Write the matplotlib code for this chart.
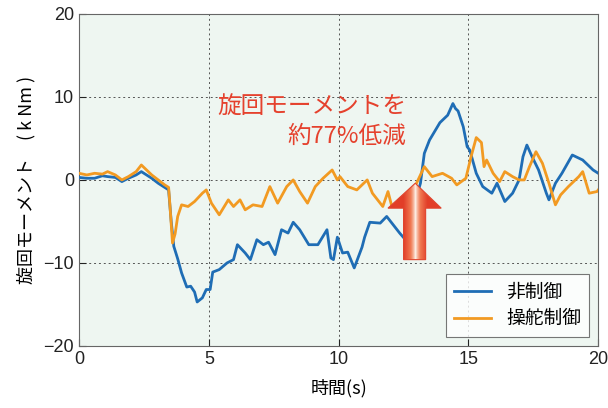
import numpy as np
import matplotlib
matplotlib.use("Agg")
import matplotlib.pyplot as plt
from matplotlib.patches import Polygon

plt.rcParams["font.family"] = ["Noto Sans CJK JP", "DejaVu Sans"]

# 非制御 (uncontrolled)
t_blue = [0.0, 0.3, 0.6, 0.9, 1.1, 1.4, 1.65, 1.9, 2.2, 2.4, 2.6, 2.8, 3.05, 3.3, 3.45,
          3.55, 3.65, 3.8, 3.95, 4.15, 4.3, 4.45, 4.55, 4.75, 4.9, 5.05, 5.15, 5.4, 5.7,
          5.95, 6.1, 6.4, 6.6, 6.85, 7.1, 7.3, 7.55, 7.8, 8.05, 8.25, 8.5, 8.85, 9.2, 9.55,
          9.7, 9.8, 9.95, 10.15, 10.35, 10.6, 10.9, 11.0, 11.2, 11.6, 11.85, 12.1, 12.35,
          12.6, 12.85, 13.05, 13.15, 13.3, 13.5, 13.9, 14.2, 14.4, 14.5, 14.6, 14.8, 14.95,
          15.05, 15.3, 15.55, 15.9, 16.1, 16.4, 16.7, 16.95, 17.1, 17.25, 17.45, 17.7, 18.0,
          18.1, 18.35, 18.6, 19.0, 19.4, 19.8, 20.0]
v_blue = [0.3, 0.2, 0.2, 0.5, 0.4, 0.3, -0.2, 0.2, 0.6, 1.0, 0.6, 0.2, -0.4, -0.9, -1.2,
          -5.0, -8.0, -9.5, -11.2, -12.9, -12.8, -13.5, -14.7, -14.2, -13.2, -13.2, -11.1,
          -10.8, -10.0, -9.6, -7.8, -8.8, -9.6, -7.2, -7.8, -7.5, -9.0, -6.0, -6.4, -5.1,
          -6.0, -7.8, -7.8, -6.0, -9.4, -9.6, -6.9, -8.8, -8.7, -10.6, -8.1, -6.9, -5.1,
          -5.2, -4.4, -5.4, -6.4, -7.3, -5.0, -1.5, -0.4, 3.2, 4.8, 6.9, 7.8, 9.2, 8.6, 8.3,
          6.4, 4.0, 3.6, 0.8, -0.8, -1.6, -0.4, -2.6, -1.6, 0.0, 2.8, 4.2, 2.8, 1.2, -1.6,
          -2.4, -0.4, 0.8, 3.0, 2.4, 1.2, 0.8]

# 操舵制御 (steering control)
t_orange = [0.0, 0.3, 0.6, 0.9, 1.1, 1.4, 1.65, 1.9, 2.2, 2.4, 2.6, 2.8, 3.05, 3.3, 3.45,
            3.5, 3.6, 3.7, 3.8, 3.95, 4.2, 4.45, 4.75, 4.9, 5.1, 5.4, 5.75, 5.95, 6.2, 6.4,
            6.7, 7.05, 7.35, 7.65, 8.0, 8.25, 8.5, 8.8, 9.1, 9.4, 9.75, 9.95, 10.05, 10.35,
            10.7, 11.1, 11.3, 11.7, 11.9, 12.05, 12.45, 12.8, 13.0, 13.3, 13.6, 14.0, 14.35,
            14.55, 14.9, 15.1, 15.3, 15.5, 15.6, 15.7, 15.95, 16.2, 16.4, 16.7, 16.95, 17.15,
            17.35, 17.6, 17.85, 18.1, 18.35, 18.55, 18.85, 19.25, 19.4, 19.65, 19.95, 20.0]
v_orange = [0.8, 0.6, 0.8, 0.7, 1.0, 0.6, 0.0, 0.4, 1.0, 1.8, 1.2, 0.6, 0.0, -0.6, -0.9,
            -3.0, -7.6, -6.5, -4.4, -3.0, -3.2, -2.6, -1.6, -1.2, -2.8, -4.2, -2.4, -3.2,
            -2.4, -3.6, -3.0, -3.2, -0.8, -2.8, -0.8, 0.0, -1.4, -2.8, -0.8, 0.2, 1.2, 0.0,
            0.4, -0.8, -1.2, 0.0, -1.6, -3.2, -1.4, -3.2, -2.4, -1.5, -0.4, 1.6, 0.4, 0.8,
            0.2, -0.6, 0.2, 2.8, 5.1, 4.5, 1.6, 2.4, 0.8, -0.2, 1.0, 0.4, 0.0, 0.0, 1.6, 3.4,
            2.0, -0.4, -3.0, -1.8, -0.8, 0.4, 1.0, -1.6, -1.4, -1.2]

labels = ["非制御", "操舵制御"]
x_ticks = [0, 5, 10, 15, 20]
y_ticks = [-20, -10, 0, 10, 20]

BLUE = "#1f6db5"
ORANGE = "#f29a22"
RED = "#e5412d"

fig = plt.figure(figsize=(6.08, 4.08), dpi=100)
ax = fig.add_axes([0.130, 0.152, 0.854, 0.814])
ax.set_facecolor("#eef6f1")

ax.plot(t_blue, v_blue, color=BLUE, lw=2.0, label=labels[0], zorder=3)
ax.plot(t_orange, v_orange, color=ORANGE, lw=2.0, label=labels[1], zorder=3)

ax.set_xlim(0, 20)
ax.set_ylim(-20, 20)
ax.set_xticks(x_ticks)
ax.set_yticks(y_ticks)
ax.grid(True, linestyle=(0, (2, 3)), color="#555555", lw=0.7)
ax.tick_params(direction="in", length=5, labelsize=13, colors="#222222")
for lab in ax.get_xticklabels() + ax.get_yticklabels():
    lab.set_fontfamily("Liberation Sans")
for s in ax.spines.values():
    s.set_color("#666666")

ax.set_xlabel("時間(s)", fontsize=13, labelpad=8)
ax.set_ylabel("旋回モーメント　( k Nm )", fontsize=13, labelpad=6)

# gradient block arrow
arrow_pts = [(12.5, -9.6), (13.35, -9.6), (13.35, -3.4), (13.95, -3.4),
             (12.95, -0.4), (11.9, -3.4), (12.5, -3.4)]
poly = Polygon(arrow_pts, closed=True, facecolor="none", edgecolor="#e0452e",
               lw=0.8, zorder=6)
ax.add_patch(poly)
gx = np.linspace(-1, 1, 200)
grad = np.clip(np.abs(gx - 0.02) / 0.45, 0, 1)[None, :] ** 0.7
cmap = matplotlib.colors.LinearSegmentedColormap.from_list(
    "arr", ["#fdf3ea", "#f07a52", "#e23e28"])
img = ax.imshow(np.repeat(grad, 50, axis=0), extent=[11.9, 13.95, -9.6, -0.4],
                cmap=cmap, aspect="auto", origin="lower", zorder=5)
img.set_clip_path(poly)
ax.set_xlim(0, 20)
ax.set_ylim(-20, 20)

ax.text(12.6, 8.9, "旋回モーメントを", color=RED, fontsize=17, ha="right",
        va="center", zorder=7)
ax.text(12.6, 5.3, "約77%低減", color=RED, fontsize=17, ha="right",
        va="center", zorder=7)

leg = ax.legend(loc="lower right", fontsize=13.5, frameon=True, fancybox=False,
                handlelength=2.0, borderaxespad=0.5, labelspacing=0.3)
leg.get_frame().set_edgecolor("#555555")
leg.get_frame().set_linewidth(0.8)
leg.set_zorder(8)

fig.savefig("out.png", dpi=100)
